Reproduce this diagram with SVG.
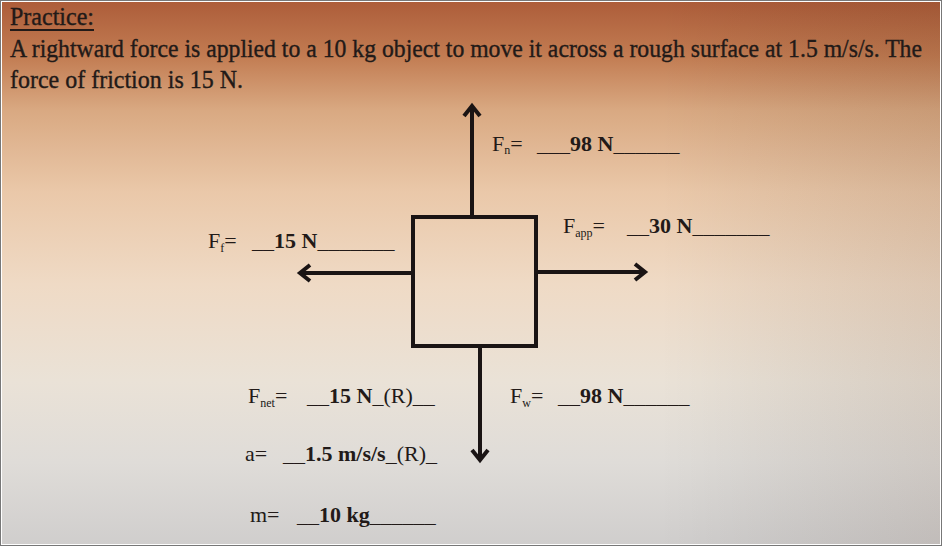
<svg xmlns="http://www.w3.org/2000/svg" width="942" height="546" viewBox="0 0 942 546">
  <defs>
    <linearGradient id="bg" x1="0" y1="0" x2="0" y2="1">
      <stop offset="0" stop-color="#ad5d3a"/>
      <stop offset="0.1" stop-color="#c27c52"/>
      <stop offset="0.2" stop-color="#d9a982"/>
      <stop offset="0.35" stop-color="#eac8a9"/>
      <stop offset="0.52" stop-color="#efdac5"/>
      <stop offset="0.7" stop-color="#eae2d7"/>
      <stop offset="0.85" stop-color="#dfdcd8"/>
      <stop offset="1" stop-color="#d0cecd"/>
    </linearGradient>
    <linearGradient id="side" x1="0" y1="0" x2="1" y2="0">
      <stop offset="0" stop-color="#000" stop-opacity="0"/>
      <stop offset="0.7" stop-color="#000" stop-opacity="0"/>
      <stop offset="1" stop-color="#3a1a0a" stop-opacity="0.1"/>
    </linearGradient>
    <marker id="head" viewBox="-14 -10 18 20" refX="0" refY="0" markerWidth="18" markerHeight="20" markerUnits="userSpaceOnUse" orient="auto">
      <path d="M-10,-8 L0,0 L-10,8" fill="none" stroke="#1a1414" stroke-width="4" stroke-linejoin="miter"/>
    </marker>
    <style>
      .t { font-family: "Liberation Serif", "Times New Roman", serif; fill: #221a18; }
      .hd { font-size: 24px; stroke: #221a18; stroke-width: 0.35px; }
      .lb { font-size: 22px; }
      .b { font-weight: bold; }
      .sub { font-size: 12px; }
      .ln { stroke: #1a1414; stroke-width: 4; fill: none; }
    </style>
  </defs>

  <rect x="0" y="0" width="942" height="546" fill="#ffffff"/>
  <rect x="2" y="2" width="938" height="542" fill="url(#bg)"/>
  <rect x="2" y="2" width="938" height="542" fill="url(#side)"/>
  <rect x="0.5" y="0.5" width="941" height="545" fill="none" stroke="#777" stroke-width="1"/>

  <g id="header">
    <text class="t hd" transform="translate(10,25) scale(1,1.08)" x="0" y="0" textLength="84" lengthAdjust="spacingAndGlyphs">Practice:</text>
    <line x1="10" y1="30" x2="94" y2="30" stroke="#221a18" stroke-width="2"/>
    <text class="t hd" transform="translate(10,57) scale(1,1.08)" x="0" y="0" textLength="912" lengthAdjust="spacingAndGlyphs">A rightward force is applied to a 10 kg object to move it across a rough surface at 1.5 m/s/s.  The</text>
    <text class="t hd" transform="translate(10,88) scale(1,1.08)" x="0" y="0" textLength="233" lengthAdjust="spacingAndGlyphs">force of friction is 15 N.</text>
  </g>

  <g id="object">
    <rect class="ln" x="413" y="217" width="123" height="129"/>
  </g>

  <g id="connectors">
    <line class="ln" x1="472" y1="217" x2="472" y2="106" marker-end="url(#head)"/>
    <line class="ln" x1="480" y1="346" x2="480" y2="460" marker-end="url(#head)"/>
    <line class="ln" x1="413" y1="273" x2="300" y2="273" marker-end="url(#head)"/>
    <line class="ln" x1="536" y1="272" x2="645" y2="272" marker-end="url(#head)"/>
  </g>

  <g id="label-fn">
    <text class="t lb" x="492" y="151">F<tspan class="sub" dy="3">n</tspan><tspan dy="-3">=</tspan><tspan x="537">___</tspan><tspan class="b">98 N</tspan><tspan>______</tspan></text>
  </g>

  <g id="label-fapp">
    <text class="t lb" x="563" y="233">F<tspan class="sub" dy="4">app</tspan><tspan dy="-4">=</tspan><tspan x="627">__</tspan><tspan class="b">30 N</tspan><tspan>_______</tspan></text>
  </g>

  <g id="label-ff">
    <text class="t lb" x="208" y="248">F<tspan class="sub" dy="4">f</tspan><tspan dy="-4">=</tspan><tspan x="252">__</tspan><tspan class="b">15 N</tspan><tspan>_______</tspan></text>
  </g>

  <g id="label-fnet">
    <text class="t lb" x="248" y="403">F<tspan class="sub" dy="4">net</tspan><tspan dy="-4">=</tspan><tspan x="307">__</tspan><tspan class="b">15 N</tspan><tspan>_(R)__</tspan></text>
  </g>

  <g id="label-fw">
    <text class="t lb" x="510" y="403">F<tspan class="sub" dy="4">w</tspan><tspan dy="-4">=</tspan><tspan x="558">__</tspan><tspan class="b">98 N</tspan><tspan>______</tspan></text>
  </g>

  <g id="label-a">
    <text class="t lb" x="245" y="461">a=<tspan x="283">__</tspan><tspan class="b">1.5 m/s/s</tspan><tspan>_(R)_</tspan></text>
  </g>

  <g id="label-m">
    <text class="t lb" x="250" y="522">m=<tspan x="297">__</tspan><tspan class="b">10 kg</tspan><tspan>______</tspan></text>
  </g>
</svg>
